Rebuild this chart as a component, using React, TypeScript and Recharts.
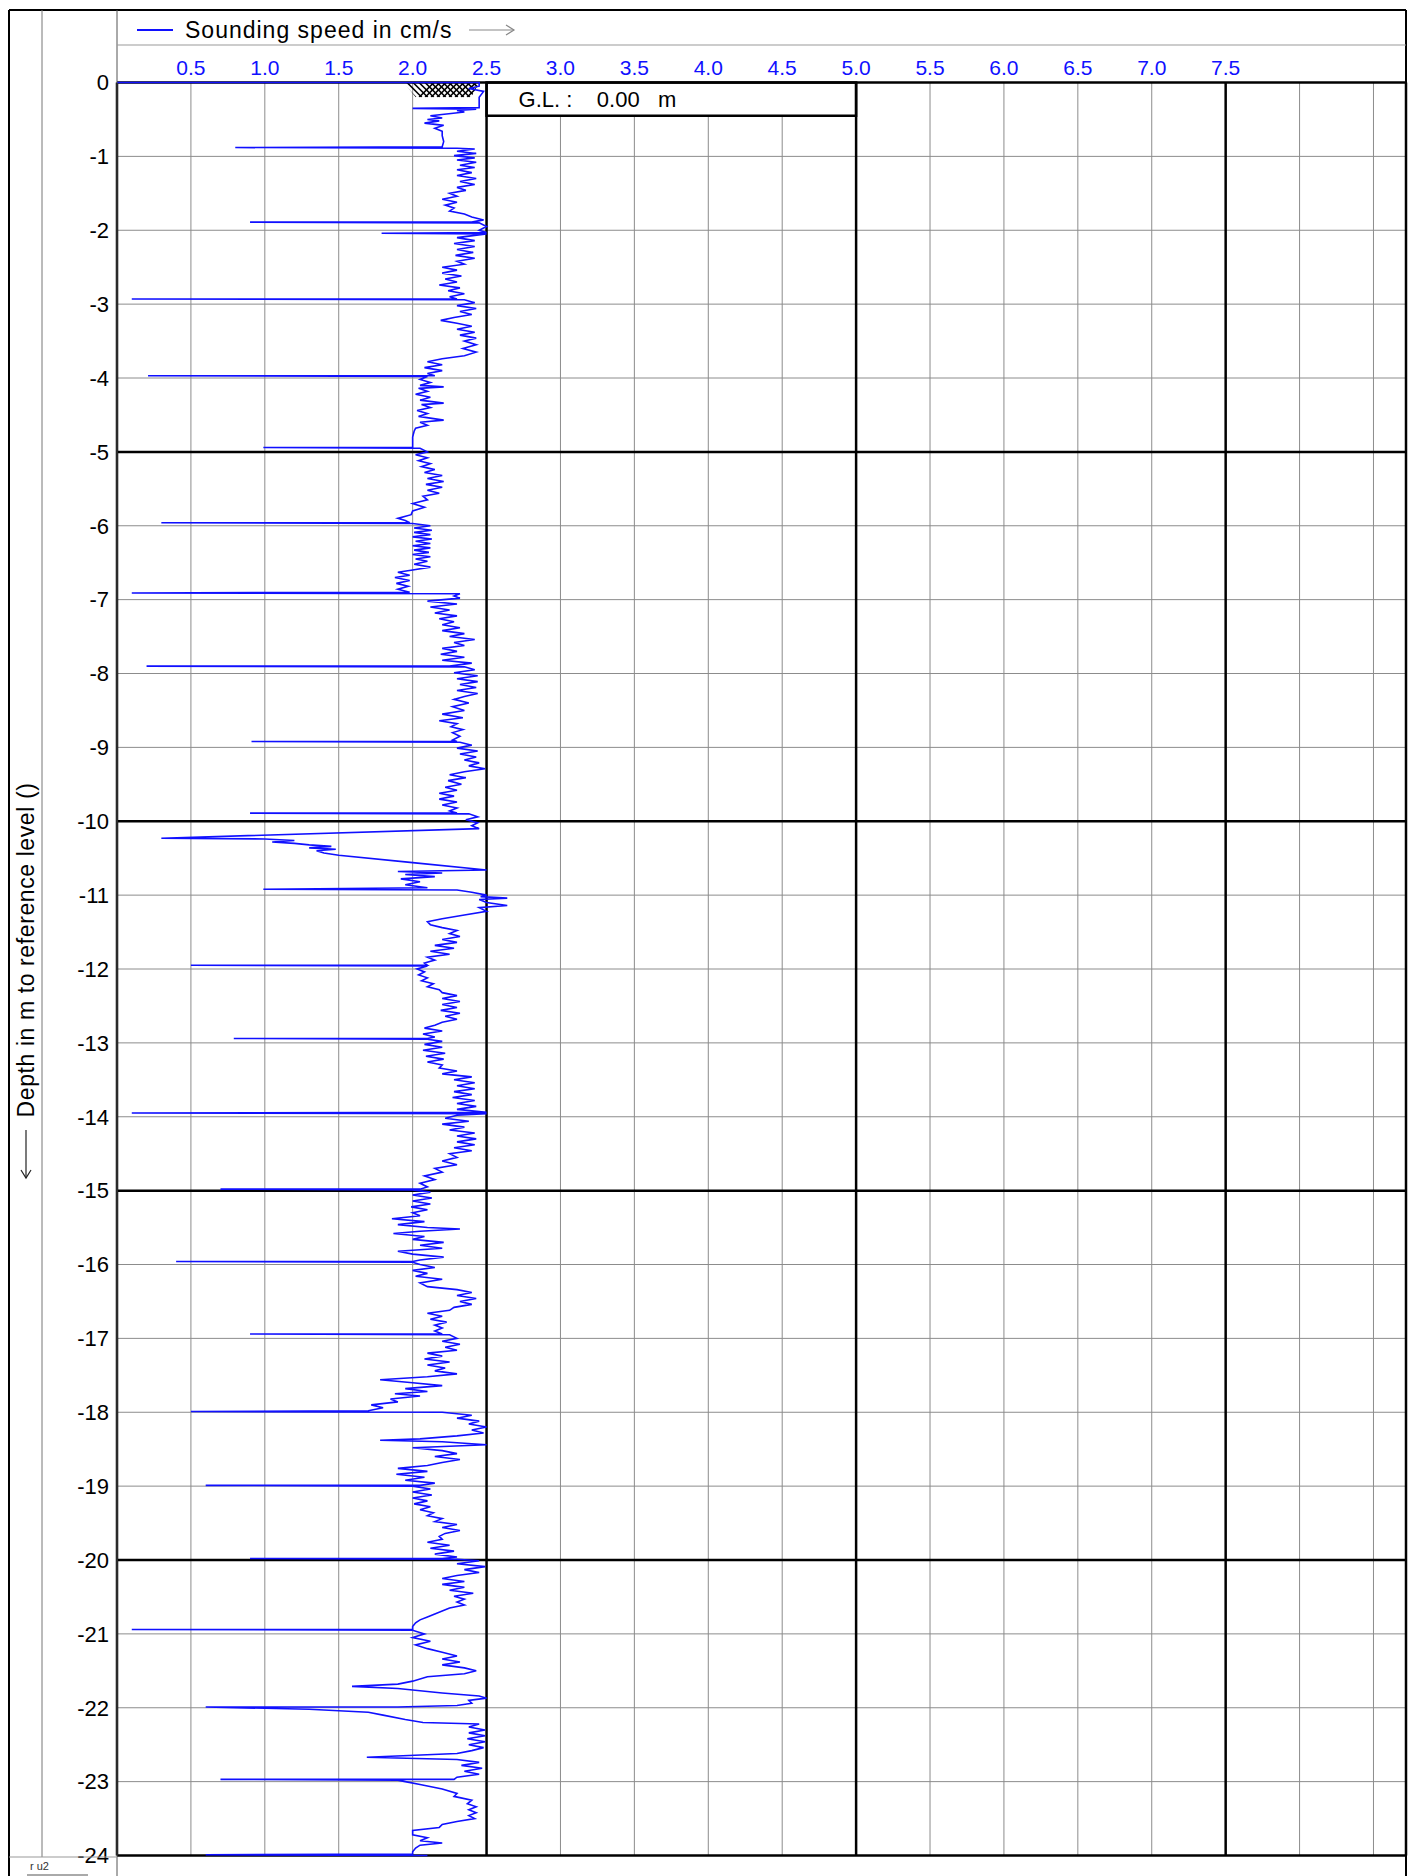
import {
  ScatterChart,
  Scatter,
  XAxis,
  YAxis,
  CartesianGrid,
  ReferenceLine,
  ReferenceArea,
} from "recharts";

const BLUE = "#1010ff";
const GRID = "#8c8c8c";
const FONT = '"Liberation Sans", Arial, sans-serif';

// speed axis (cm/s): grid every 0.5, labels only up to 7.5
const SPEED_TICKS = [0.5, 1.0, 1.5, 2.0, 2.5, 3.0, 3.5, 4.0, 4.5, 5.0, 5.5, 6.0, 6.5, 7.0, 7.5, 8.0, 8.5];
const SPEED_LABEL_MAX = 7.5;
const SPEED_MAX = 8.72;
const SPEED_BOLD = [2.5, 5.0, 7.5];

// depth axis (m)
const DEPTH_TICKS = [0, -1, -2, -3, -4, -5, -6, -7, -8, -9, -10, -11, -12, -13, -14, -15, -16, -17, -18, -19, -20, -21, -22, -23, -24];
const DEPTH_BOLD = [-5, -10, -15, -20];

const GROUND_LEVEL = "0.00";

// [depth m, sounding speed cm/s]
const SOUNDING: [number, number][] = [
  // 0 - 1 m
  [0, 0], [0, 2.45], [-0.05, 2.45], [-0.08, 2.38], [-0.12, 2.48], [-0.2, 2.45], [-0.34, 2.45], [-0.35, 2.0], [-0.36, 2.43],
  [-0.38, 2.3], [-0.4, 2.35], [-0.42, 2.26], [-0.45, 2.12], [-0.48, 2.2], [-0.5, 2.1], [-0.52, 2.18], [-0.55, 2.08],
  [-0.58, 2.21], [-0.62, 2.15], [-0.66, 2.2], [-0.72, 2.2], [-0.8, 2.21], [-0.87, 2.2], [-0.88, 0.8], [-0.89, 2.3],
  // 1 - 2 m
  [-0.9, 2.42], [-0.93, 2.3], [-0.96, 2.43], [-0.99, 2.28], [-1.02, 2.42], [-1.05, 2.3], [-1.08, 2.43], [-1.12, 2.32],
  [-1.15, 2.42], [-1.18, 2.3], [-1.22, 2.4], [-1.26, 2.3], [-1.3, 2.43], [-1.34, 2.32], [-1.38, 2.42], [-1.42, 2.3],
  [-1.46, 2.36], [-1.5, 2.25], [-1.54, 2.3], [-1.58, 2.2], [-1.62, 2.3], [-1.66, 2.22], [-1.7, 2.28], [-1.74, 2.25],
  [-1.78, 2.35], [-1.82, 2.4], [-1.86, 2.48], [-1.89, 2.4], [-1.89, 0.9], [-1.9, 2.45], [-1.95, 2.5], [-2.0, 2.45],
  [-2.03, 2.5], [-2.04, 1.79], [-2.05, 2.5], [-2.08, 2.38],
  // 2 - 3 m
  [-2.1, 2.3], [-2.14, 2.42], [-2.18, 2.28], [-2.22, 2.42], [-2.26, 2.3], [-2.3, 2.41], [-2.34, 2.29], [-2.38, 2.42],
  [-2.42, 2.3], [-2.46, 2.35], [-2.5, 2.2], [-2.54, 2.3], [-2.58, 2.2], [-2.62, 2.33], [-2.66, 2.22], [-2.7, 2.3],
  [-2.74, 2.18], [-2.78, 2.32], [-2.82, 2.24], [-2.86, 2.35], [-2.9, 2.25], [-2.93, 2.3], [-2.93, 0.1], [-2.94, 2.35],
  // 3 - 4 m
  [-2.98, 2.42], [-3.02, 2.3], [-3.06, 2.43], [-3.1, 2.32], [-3.14, 2.4], [-3.18, 2.28], [-3.22, 2.19], [-3.26, 2.3],
  [-3.3, 2.4], [-3.34, 2.3], [-3.38, 2.42], [-3.42, 2.32], [-3.46, 2.43], [-3.5, 2.35], [-3.55, 2.43], [-3.6, 2.34],
  [-3.65, 2.43], [-3.7, 2.35], [-3.74, 2.2], [-3.78, 2.1], [-3.82, 2.2], [-3.86, 2.08], [-3.9, 2.2], [-3.94, 2.1],
  [-3.97, 2.15], [-3.97, 0.21], [-3.98, 2.1],
  // 4 - 5 m
  [-4.02, 2.05], [-4.06, 2.12], [-4.1, 2.05], [-4.12, 2.21], [-4.14, 2.04], [-4.18, 2.1], [-4.22, 2.02], [-4.26, 2.12],
  [-4.3, 2.05], [-4.34, 2.21], [-4.36, 2.06], [-4.4, 2.12], [-4.44, 2.03], [-4.48, 2.1], [-4.52, 2.04], [-4.57, 2.21],
  [-4.6, 2.05], [-4.64, 2.1], [-4.68, 2.02], [-4.72, 2.01], [-4.8, 2.0], [-4.9, 2.0], [-4.94, 2.0], [-4.94, 0.99], [-4.95, 2.05],
  // 5 - 6 m
  [-5.0, 2.1], [-5.04, 2.02], [-5.08, 2.1], [-5.12, 2.04], [-5.16, 2.12], [-5.2, 2.06], [-5.24, 2.15], [-5.28, 2.08],
  [-5.32, 2.2], [-5.36, 2.1], [-5.4, 2.21], [-5.44, 2.09], [-5.48, 2.2], [-5.52, 2.1], [-5.56, 2.18], [-5.6, 2.07],
  [-5.65, 2.1], [-5.7, 2.0], [-5.75, 2.08], [-5.8, 2.0], [-5.85, 1.99], [-5.9, 1.9], [-5.93, 1.95], [-5.96, 1.98],
  [-5.96, 0.3], [-5.97, 2.0],
  // 6 - 7 m
  [-6.0, 2.12], [-6.03, 2.01], [-6.06, 2.13], [-6.09, 2.01], [-6.12, 2.12], [-6.15, 2.0], [-6.18, 2.13], [-6.21, 2.02],
  [-6.24, 2.12], [-6.27, 2.0], [-6.3, 2.12], [-6.33, 2.01], [-6.36, 2.11], [-6.39, 2.0], [-6.42, 2.12], [-6.45, 2.02],
  [-6.48, 2.1], [-6.52, 2.01], [-6.56, 2.12], [-6.6, 2.0], [-6.63, 1.9], [-6.67, 1.98], [-6.7, 1.88], [-6.74, 1.98],
  [-6.78, 1.89], [-6.82, 1.97], [-6.86, 1.9], [-6.9, 1.98], [-6.91, 0.1], [-6.92, 2.32], [-6.95, 2.28], [-6.98, 2.32],
  // 7 - 8 m
  [-7.02, 2.1], [-7.06, 2.3], [-7.1, 2.12], [-7.14, 2.25], [-7.18, 2.15], [-7.22, 2.3], [-7.26, 2.18], [-7.3, 2.28],
  [-7.34, 2.2], [-7.38, 2.32], [-7.42, 2.2], [-7.46, 2.35], [-7.5, 2.25], [-7.54, 2.42], [-7.58, 2.28], [-7.62, 2.35],
  [-7.66, 2.2], [-7.7, 2.3], [-7.74, 2.19], [-7.78, 2.35], [-7.82, 2.2], [-7.86, 2.4], [-7.9, 2.25], [-7.9, 0.2], [-7.91, 2.35],
  // 8 - 9 m
  [-7.95, 2.42], [-7.99, 2.28], [-8.03, 2.44], [-8.07, 2.3], [-8.11, 2.44], [-8.15, 2.32], [-8.19, 2.43], [-8.23, 2.3],
  [-8.27, 2.44], [-8.31, 2.35], [-8.35, 2.28], [-8.4, 2.38], [-8.45, 2.27], [-8.5, 2.35], [-8.55, 2.2], [-8.6, 2.34],
  [-8.64, 2.18], [-8.68, 2.3], [-8.72, 2.26], [-8.76, 2.34], [-8.8, 2.27], [-8.85, 2.32], [-8.9, 2.27], [-8.92, 2.3],
  [-8.92, 0.91], [-8.93, 2.32],
  // 9 - 10 m
  [-8.97, 2.4], [-9.01, 2.3], [-9.05, 2.44], [-9.09, 2.32], [-9.13, 2.43], [-9.17, 2.35], [-9.21, 2.45], [-9.25, 2.38],
  [-9.29, 2.49], [-9.33, 2.35], [-9.37, 2.25], [-9.41, 2.36], [-9.45, 2.24], [-9.5, 2.33], [-9.54, 2.22], [-9.58, 2.3],
  [-9.62, 2.18], [-9.66, 2.28], [-9.7, 2.18], [-9.74, 2.3], [-9.78, 2.2], [-9.82, 2.3], [-9.86, 2.25], [-9.89, 2.3],
  [-9.89, 0.9], [-9.9, 2.38], [-9.94, 2.44], [-9.98, 2.36], [-10.02, 2.44], [-10.06, 2.4], [-10.1, 2.45],
  // 10 - 11 m
  [-10.23, 0.3], [-10.24, 1.0], [-10.26, 1.2], [-10.28, 1.05], [-10.3, 1.2], [-10.32, 1.3], [-10.34, 1.45], [-10.36, 1.3],
  [-10.38, 1.48], [-10.4, 1.35], [-10.43, 1.4], [-10.46, 1.5], [-10.56, 2.0], [-10.66, 2.5], [-10.68, 1.9], [-10.7, 2.2],
  [-10.72, 1.95], [-10.75, 2.15], [-10.78, 1.92], [-10.82, 2.05], [-10.86, 1.95], [-10.9, 2.1], [-10.92, 0.99],
  [-10.93, 2.3], [-10.96, 2.4], [-11.0, 2.5], [-11.02, 2.46], [-11.04, 2.64], [-11.06, 2.45], [-11.1, 2.5], [-11.14, 2.64],
  [-11.17, 2.45], [-11.22, 2.5], [-11.27, 2.35], [-11.32, 2.2], [-11.36, 2.1],
  // 11 - 12 m
  [-11.4, 2.12], [-11.44, 2.2], [-11.48, 2.3], [-11.52, 2.25], [-11.56, 2.32], [-11.6, 2.2], [-11.64, 2.3], [-11.68, 2.15],
  [-11.72, 2.28], [-11.76, 2.12], [-11.8, 2.25], [-11.84, 2.1], [-11.88, 2.15], [-11.92, 2.08], [-11.95, 2.1],
  [-11.95, 0.5], [-11.96, 2.1],
  // 12 - 13 m
  [-12.0, 2.03], [-12.04, 2.08], [-12.08, 2.04], [-12.12, 2.1], [-12.16, 2.06], [-12.2, 2.14], [-12.24, 2.1], [-12.28, 2.18],
  [-12.32, 2.2], [-12.36, 2.3], [-12.4, 2.2], [-12.44, 2.32], [-12.48, 2.2], [-12.52, 2.3], [-12.56, 2.19], [-12.6, 2.32],
  [-12.64, 2.22], [-12.68, 2.3], [-12.72, 2.2], [-12.76, 2.15], [-12.8, 2.08], [-12.84, 2.2], [-12.88, 2.07], [-12.92, 2.15],
  [-12.94, 2.1], [-12.94, 0.79], [-12.95, 2.1],
  // 13 - 14 m
  [-12.98, 2.2], [-13.02, 2.08], [-13.06, 2.2], [-13.1, 2.07], [-13.14, 2.22], [-13.18, 2.09], [-13.22, 2.21], [-13.26, 2.1],
  [-13.3, 2.2], [-13.34, 2.18], [-13.38, 2.3], [-13.42, 2.2], [-13.46, 2.4], [-13.5, 2.28], [-13.54, 2.42], [-13.58, 2.3],
  [-13.62, 2.42], [-13.66, 2.28], [-13.7, 2.4], [-13.74, 2.27], [-13.78, 2.42], [-13.82, 2.3], [-13.86, 2.43], [-13.9, 2.3],
  [-13.94, 2.5], [-13.95, 0.1], [-13.96, 2.5], [-13.98, 2.3],
  // 14 - 15 m
  [-14.02, 2.22], [-14.06, 2.38], [-14.1, 2.2], [-14.14, 2.35], [-14.18, 2.25], [-14.22, 2.42], [-14.26, 2.3], [-14.3, 2.43],
  [-14.34, 2.3], [-14.38, 2.42], [-14.42, 2.28], [-14.46, 2.4], [-14.5, 2.25], [-14.55, 2.3], [-14.6, 2.2], [-14.65, 2.3],
  [-14.7, 2.15], [-14.75, 2.2], [-14.8, 2.08], [-14.85, 2.15], [-14.9, 2.05], [-14.95, 2.1], [-14.98, 2.05],
  [-14.98, 0.7], [-14.99, 2.0],
  // 15 - 16 m
  [-15.02, 2.12], [-15.06, 2.0], [-15.1, 2.13], [-15.14, 2.0], [-15.18, 2.12], [-15.22, 1.99], [-15.26, 2.1], [-15.3, 2.0],
  [-15.34, 2.05], [-15.38, 1.86], [-15.42, 2.08], [-15.46, 1.9], [-15.5, 2.1], [-15.52, 2.32], [-15.55, 2.05], [-15.58, 1.87],
  [-15.62, 2.08], [-15.66, 2.0], [-15.7, 2.21], [-15.74, 2.05], [-15.78, 2.2], [-15.82, 1.9], [-15.86, 2.0], [-15.9, 2.21],
  [-15.94, 2.05], [-15.96, 2.0], [-15.96, 0.4], [-15.97, 2.0],
  // 16 - 17 m
  [-16.0, 2.05], [-16.04, 2.15], [-16.08, 2.0], [-16.12, 2.1], [-16.16, 2.02], [-16.2, 2.2], [-16.25, 2.05], [-16.3, 2.1],
  [-16.34, 2.3], [-16.38, 2.4], [-16.42, 2.3], [-16.46, 2.43], [-16.5, 2.32], [-16.54, 2.4], [-16.58, 2.28], [-16.62, 2.25],
  [-16.66, 2.1], [-16.7, 2.2], [-16.74, 2.12], [-16.78, 2.23], [-16.82, 2.15], [-16.86, 2.2], [-16.9, 2.15], [-16.94, 2.2],
  [-16.94, 0.9], [-16.95, 2.25],
  // 17 - 18 m
  [-17.0, 2.3], [-17.04, 2.2], [-17.08, 2.32], [-17.12, 2.22], [-17.16, 2.3], [-17.2, 2.1], [-17.24, 2.2], [-17.28, 2.08],
  [-17.32, 2.25], [-17.36, 2.1], [-17.4, 2.22], [-17.44, 2.15], [-17.48, 2.3], [-17.52, 2.1], [-17.56, 1.78], [-17.6, 2.0],
  [-17.64, 2.2], [-17.68, 1.95], [-17.72, 2.1], [-17.75, 1.88], [-17.78, 2.05], [-17.82, 1.85], [-17.86, 1.9], [-17.9, 1.72],
  [-17.94, 1.8], [-17.98, 1.7], [-17.99, 0.5],
  // 18 - 19 m
  [-18.0, 2.2], [-18.04, 2.4], [-18.08, 2.3], [-18.12, 2.45], [-18.16, 2.38], [-18.2, 2.5], [-18.24, 2.4], [-18.28, 2.48],
  [-18.32, 2.3], [-18.36, 2.05], [-18.38, 1.78], [-18.4, 2.2], [-18.44, 2.5], [-18.48, 2.0], [-18.52, 2.2], [-18.56, 2.3],
  [-18.6, 2.15], [-18.64, 2.32], [-18.68, 2.2], [-18.72, 2.1], [-18.76, 1.9], [-18.8, 2.1], [-18.84, 1.89], [-18.88, 2.08],
  [-18.92, 1.95], [-18.96, 2.15], [-18.99, 2.05], [-18.99, 0.6], [-19.0, 2.0],
  // 19 - 20 m
  [-19.04, 2.12], [-19.08, 2.0], [-19.12, 2.13], [-19.16, 2.0], [-19.2, 2.1], [-19.24, 2.01], [-19.28, 2.12], [-19.32, 2.05],
  [-19.36, 2.14], [-19.4, 2.1], [-19.44, 2.2], [-19.48, 2.15], [-19.52, 2.3], [-19.56, 2.2], [-19.6, 2.32], [-19.64, 2.22],
  [-19.68, 2.18], [-19.72, 2.2], [-19.76, 2.1], [-19.8, 2.25], [-19.84, 2.12], [-19.88, 2.28], [-19.92, 2.15], [-19.96, 2.3],
  [-19.98, 2.2], [-19.98, 0.9], [-19.99, 2.3],
  // 20 - 21 m
  [-20.01, 2.45], [-20.05, 2.3], [-20.09, 2.49], [-20.13, 2.35], [-20.17, 2.45], [-20.21, 2.3], [-20.25, 2.2], [-20.29, 2.35],
  [-20.33, 2.2], [-20.37, 2.35], [-20.41, 2.25], [-20.45, 2.41], [-20.49, 2.28], [-20.53, 2.35], [-20.57, 2.3], [-20.61, 2.35],
  [-20.65, 2.25], [-20.69, 2.2], [-20.73, 2.15], [-20.77, 2.1], [-20.81, 2.05], [-20.85, 2.02], [-20.9, 2.0], [-20.94, 2.0],
  [-20.94, 0.1], [-20.95, 2.0],
  // 21 - 22 m
  [-21.0, 2.08], [-21.05, 2.0], [-21.1, 2.12], [-21.15, 2.02], [-21.2, 2.1], [-21.25, 2.2], [-21.3, 2.3], [-21.34, 2.2],
  [-21.38, 2.32], [-21.42, 2.2], [-21.46, 2.35], [-21.5, 2.43], [-21.54, 2.35], [-21.58, 2.1], [-21.64, 2.0], [-21.68, 1.9],
  [-21.71, 1.59], [-21.74, 1.9], [-21.8, 2.2], [-21.84, 2.45], [-21.87, 2.5], [-21.9, 2.38], [-21.94, 2.4], [-21.97, 2.3],
  [-21.99, 1.9], [-21.99, 0.6],
  // 22 - 23 m
  [-22.02, 1.3], [-22.06, 1.7], [-22.1, 1.8], [-22.16, 1.95], [-22.2, 2.07], [-22.22, 2.45], [-22.26, 2.38], [-22.3, 2.49],
  [-22.34, 2.38], [-22.38, 2.49], [-22.42, 2.37], [-22.46, 2.49], [-22.5, 2.38], [-22.54, 2.48], [-22.58, 2.4], [-22.62, 2.3],
  [-22.67, 1.69], [-22.7, 2.3], [-22.74, 2.45], [-22.78, 2.33], [-22.82, 2.47], [-22.86, 2.35], [-22.9, 2.45], [-22.94, 2.3],
  [-22.97, 2.28], [-22.97, 0.7], [-22.98, 1.9],
  // 23 - 24 m
  [-23.0, 1.95], [-23.04, 2.05], [-23.1, 2.2], [-23.16, 2.3], [-23.2, 2.28], [-23.25, 2.4], [-23.3, 2.37], [-23.34, 2.43],
  [-23.38, 2.38], [-23.42, 2.43], [-23.46, 2.38], [-23.5, 2.42], [-23.54, 2.3], [-23.58, 2.2], [-23.62, 2.18], [-23.66, 2.0],
  [-23.72, 2.0], [-23.76, 2.1], [-23.8, 2.05], [-23.83, 2.2], [-23.86, 2.05], [-23.9, 2.02], [-23.95, 2.0], [-23.98, 2.0],
  [-23.99, 0.6], [-24.0, 2.1],
];

const data = SOUNDING.map(([depth, speed]) => ({ depth, speed }));

// ground symbol hatching at the top of the borehole
function GroundHatch(props: any) {
  const { x, y, width, height } = props;
  const lines = [];
  for (let i = -height; i < width; i += 6) {
    lines.push(<line key={"b" + i} x1={x + i} y1={y} x2={x + i + height} y2={y + height} />);
  }
  for (let i = width * 0.4; i < width + height; i += 6) {
    lines.push(<line key={"f" + i} x1={x + i} y1={y} x2={x + i - height} y2={y + height} />);
  }
  const pts = `${x},${y} ${x + width},${y} ${x + width - 8},${y + height} ${x + 12},${y + height}`;
  return (
    <g>
      <defs>
        <clipPath id="gl-hatch">
          <polygon points={pts} />
        </clipPath>
      </defs>
      <g clipPath="url(#gl-hatch)" stroke="#000" strokeWidth={1.6}>
        {lines}
      </g>
    </g>
  );
}

export default function App() {
  return (
    <div style={{ position: "absolute", left: 0, top: 0, width: 1415, height: 1876, fontFamily: FONT, background: "#fff" }}>
      <div style={{ position: "absolute", left: 0, top: 0 }}>
        <ScatterChart
          width={1415}
          height={1876}
          margin={{ top: 52.5, right: 9, bottom: 20.5, left: 57 }}
        >
          <CartesianGrid stroke={GRID} strokeWidth={1} />
          <XAxis
            type="number"
            dataKey="speed"
            orientation="top"
            domain={[0, SPEED_MAX]}
            ticks={SPEED_TICKS}
            interval={0}
            height={30}
            axisLine={false}
            tickLine={false}
            tick={{ fill: BLUE, fontSize: 21, fontFamily: FONT }}
            tickFormatter={(v: number) => (v <= SPEED_LABEL_MAX ? v.toFixed(1) : "")}
          />
          <YAxis
            type="number"
            dataKey="depth"
            domain={[-24, 0]}
            ticks={DEPTH_TICKS}
            interval={0}
            width={60}
            axisLine={false}
            tickLine={false}
            tick={{ fill: "#000", fontSize: 22, fontFamily: FONT }}
          />
          {SPEED_BOLD.map((v) => (
            <ReferenceLine key={"vx" + v} x={v} stroke="#000" strokeWidth={2.5} />
          ))}
          {DEPTH_BOLD.map((d) => (
            <ReferenceLine key={"hy" + d} y={d} stroke="#000" strokeWidth={2.5} />
          ))}
          <ReferenceLine x={0} stroke="#000" strokeWidth={2.5} />
          <ReferenceLine x={SPEED_MAX} stroke="#000" strokeWidth={2.5} />
          <ReferenceLine y={0} stroke="#000" strokeWidth={2.5} />
          <ReferenceLine y={-24} stroke="#000" strokeWidth={2.5} />
          <ReferenceArea
            x1={2.5}
            x2={5.0}
            y1={-0.45}
            y2={0}
            fill="#fff"
            fillOpacity={1}
            stroke="#000"
            strokeWidth={2.5}
            label={{
              value: `G.L. :\u00a0\u00a0\u00a0\u00a0${GROUND_LEVEL}\u00a0\u00a0\u00a0m`,
              position: "insideLeft",
              offset: 32,
              fill: "#000",
              fontSize: 22,
              fontFamily: FONT,
            }}
          />
          <ReferenceArea x1={1.94} x2={2.45} y1={-0.2} y2={0} shape={<GroundHatch />} />
          <Scatter
            data={data}
            line={{ stroke: BLUE, strokeWidth: 1.6 }}
            lineJointType="linear"
            shape={() => <g />}
            isAnimationActive={false}
          />
        </ScatterChart>
      </div>

      {/* frame, header row and left label column */}
      <svg width={1415} height={1876} style={{ position: "absolute", left: 0, top: 0, pointerEvents: "none" }}>
        <line x1={9} y1={10} x2={1406} y2={10} stroke="#000" strokeWidth={2} />
        <line x1={9} y1={10} x2={9} y2={1876} stroke="#000" strokeWidth={2} />
        <line x1={1406} y1={10} x2={1406} y2={1876} stroke="#000" strokeWidth={2} />
        <line x1={42} y1={10} x2={42} y2={1857} stroke="#777" strokeWidth={1} />
        <line x1={117} y1={10} x2={117} y2={1876} stroke="#555" strokeWidth={1} />
        <line x1={117} y1={45} x2={1406} y2={45} stroke="#999" strokeWidth={1} />
        <line x1={9} y1={1857} x2={117} y2={1857} stroke="#999" strokeWidth={1} />
        <line x1={27} y1={1875} x2={88} y2={1875} stroke="#555" strokeWidth={1} />
        <text x={30} y={1870} fontSize={11} fill="#333" fontFamily={FONT}>r u2</text>
        {/* legend */}
        <line x1={137} y1={30} x2={173} y2={30} stroke={BLUE} strokeWidth={2} />
        <text x={185} y={38} fontSize={23} letterSpacing={1} fill="#000" fontFamily={FONT}>
          Sounding speed in cm/s
        </text>
        <line x1={469} y1={30} x2={514} y2={30} stroke="#888" strokeWidth={1.2} />
        <polyline points="506,25 514,30 506,35" fill="none" stroke="#888" strokeWidth={1.2} />
        {/* depth arrow */}
        <line x1={26} y1={1130} x2={26} y2={1178} stroke="#222" strokeWidth={1.2} />
        <polyline points="21,1170 26,1178 31,1170" fill="none" stroke="#222" strokeWidth={1.2} />
        <text
          x={34}
          y={950}
          fontSize={23}
          letterSpacing={0.6}
          fill="#000"
          fontFamily={FONT}
          textAnchor="middle"
          transform="rotate(-90 34 950)"
        >
          Depth in m to reference level ()
        </text>
      </svg>
    </div>
  );
}
